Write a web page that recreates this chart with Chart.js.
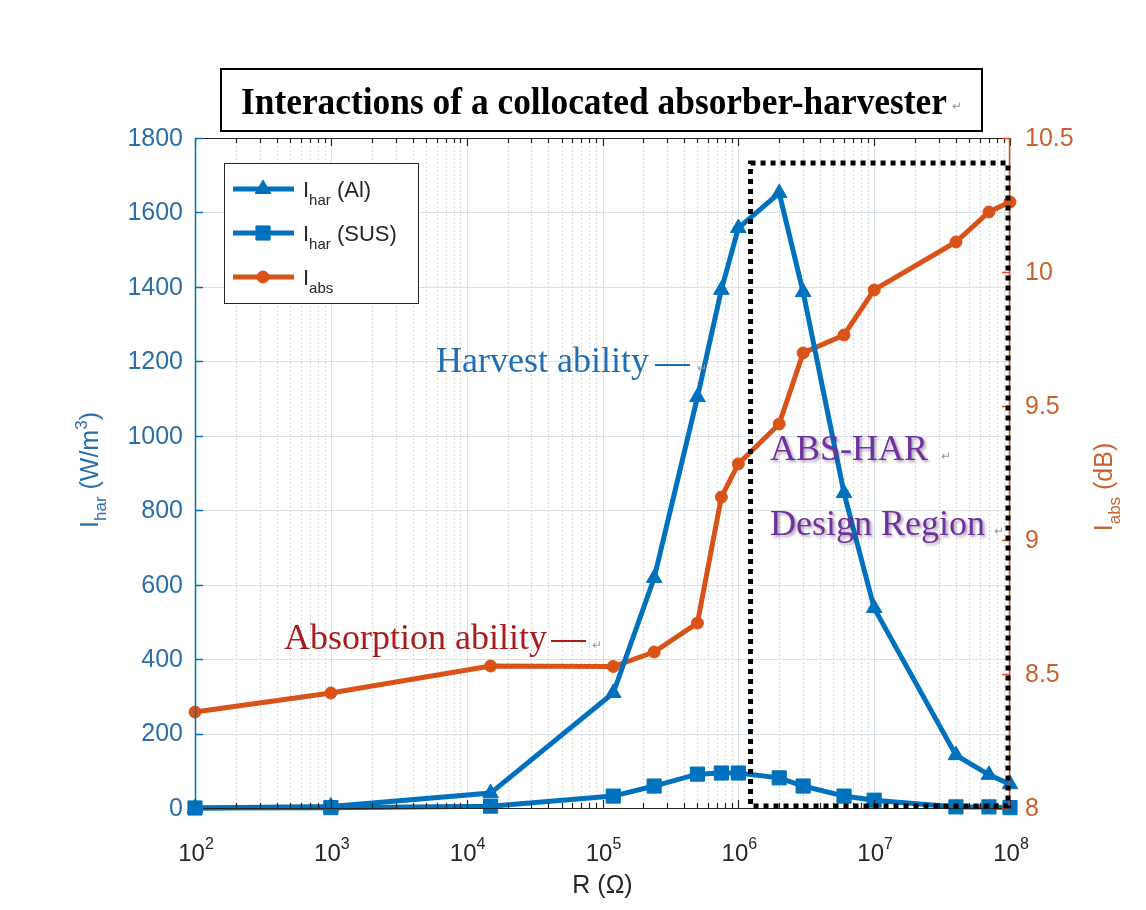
<!DOCTYPE html>
<html><head><meta charset="utf-8">
<script src="https://cdn.jsdelivr.net/npm/chart.js@4.4.0/dist/chart.umd.min.js"></script>
<style>html,body{margin:0;padding:0;background:#fff;}#c{display:block;}</style>
</head><body>
<canvas id="c" width="1146" height="910"></canvas>
<script>
// ---------------- data ----------------
const resistance = [1e2, 1e3, 1.5e4, 1.2e5, 2.4e5, 5e5, 7.5e5, 1e6, 2e6, 3e6, 6e6, 1e7, 4e7, 7e7, 1e8];
const harAl  = [0, 4, 40, 309, 618, 1104, 1392, 1558, 1652, 1386, 846, 537, 142, 89, 64];
const harSUS = [0, 1, 5, 32, 59, 91, 94, 94, 81, 59, 32, 21, 3, 3, 1];
const absDB  = [8.358, 8.429, 8.530, 8.528, 8.582, 8.690, 9.160, 9.284, 9.433, 9.698, 9.765, 9.933, 10.112, 10.224, 10.261];
const leftTicks  = [0, 200, 400, 600, 800, 1000, 1200, 1400, 1600, 1800];
const rightTicks = [8, 8.5, 9, 9.5, 10, 10.5];
const xExponents = [2, 3, 4, 5, 6, 7, 8];
const regionR = [1.23e6, 1e8];      // ABS-HAR design region (R range)
const regionTop = 1733;             // top of design region (left-axis units)

const BLUE = '#0072BD', ORANGE = '#D95319';
const BLUE_TXT = '#2c6fa8', ORANGE_TXT = '#c8622c', AX = '#262626';
const SANS = '"Liberation Sans", Arial, sans-serif';
const SERIF = '"Liberation Serif", "Times New Roman", serif';

function pts(ys){ return resistance.map((r,i)=>({x:r, y:ys[i]})); }

function rich(ctx, parts, x, y, align){
  let w = 0;
  parts.forEach(p=>{ ctx.font = p[1]+'px '+SANS; w += ctx.measureText(p[0]).width; });
  let cx = align==='center' ? x - w/2 : (align==='right' ? x - w : x);
  ctx.textAlign='left';
  parts.forEach(p=>{ ctx.font = p[1]+'px '+SANS; ctx.fillText(p[0], cx, y + (p[2]||0)); cx += ctx.measureText(p[0]).width; });
  return w;
}

const decor = {
  id:'decor',
  beforeDatasetsDraw(chart){
    const ctx = chart.ctx, xs = chart.scales.x, ys = chart.scales.y;
    const {left,right,top,bottom} = chart.chartArea;
    ctx.save();
    ctx.lineWidth = 1; ctx.setLineDash([2,2]); ctx.strokeStyle = 'rgba(150,150,150,0.38)';
    for (let d=2; d<8; d++) for (let m=2; m<=9; m++){
      const px = Math.round(xs.getPixelForValue(m*Math.pow(10,d)))+0.5;
      ctx.beginPath(); ctx.moveTo(px, top); ctx.lineTo(px, bottom); ctx.stroke();
    }
    ctx.setLineDash([]); ctx.strokeStyle = '#d9e1ea';
    xExponents.forEach(e=>{
      const px = Math.round(xs.getPixelForValue(Math.pow(10,e)))+0.5;
      ctx.beginPath(); ctx.moveTo(px, top); ctx.lineTo(px, bottom); ctx.stroke();
    });
    leftTicks.forEach(v=>{
      const py = Math.round(ys.getPixelForValue(v))+0.5;
      ctx.beginPath(); ctx.moveTo(left, py); ctx.lineTo(right, py); ctx.stroke();
    });
    ctx.restore();
  },
  afterDatasetsDraw(chart){
    const ctx = chart.ctx, xs = chart.scales.x, ys = chart.scales.y, y2 = chart.scales.y2;
    const {left,right,top,bottom} = chart.chartArea;
    ctx.save();
    ctx.lineWidth = 1.2;
    ctx.strokeStyle = AX;
    ctx.beginPath(); ctx.moveTo(left, bottom+0.5); ctx.lineTo(right, bottom+0.5); ctx.stroke();
    ctx.beginPath(); ctx.moveTo(left, top+0.5); ctx.lineTo(right, top+0.5); ctx.stroke();
    for (let d=2; d<=8; d++) for (let m=1; m<=9; m++){
      if (d===8 && m>1) break;
      const px = Math.round(xs.getPixelForValue(m*Math.pow(10,d)))+0.5;
      const L = m===1 ? 8 : 5;
      ctx.beginPath(); ctx.moveTo(px, bottom); ctx.lineTo(px, bottom-L); ctx.stroke();
      ctx.beginPath(); ctx.moveTo(px, top); ctx.lineTo(px, top+L); ctx.stroke();
    }
    ctx.lineWidth = 1.5;
    ctx.strokeStyle = BLUE;
    ctx.beginPath(); ctx.moveTo(left+0.5, top); ctx.lineTo(left+0.5, bottom); ctx.stroke();
    leftTicks.forEach(v=>{ const py=Math.round(ys.getPixelForValue(v))+0.5; ctx.beginPath(); ctx.moveTo(left,py); ctx.lineTo(left+8,py); ctx.stroke(); });
    ctx.strokeStyle = ORANGE;
    ctx.beginPath(); ctx.moveTo(right-0.5, top); ctx.lineTo(right-0.5, bottom); ctx.stroke();
    rightTicks.forEach(v=>{ const py=Math.round(y2.getPixelForValue(v))+0.5; ctx.beginPath(); ctx.moveTo(right,py); ctx.lineTo(right-8,py); ctx.stroke(); });

    ctx.textBaseline = 'middle';
    ctx.font = '25px '+SANS; ctx.fillStyle = BLUE_TXT; ctx.textAlign = 'right';
    leftTicks.forEach(v=>ctx.fillText(String(v), left-12, ys.getPixelForValue(v)+1));
    ctx.fillStyle = ORANGE_TXT; ctx.textAlign = 'left';
    rightTicks.forEach(v=>ctx.fillText(String(v), right+15, y2.getPixelForValue(v)+1));
    ctx.textBaseline = 'alphabetic'; ctx.fillStyle = AX;
    xExponents.forEach(e=>{
      rich(ctx, [['10',24,0],[String(e),16,-12]], xs.getPixelForValue(Math.pow(10,e))+1, bottom+53, 'center');
    });
    ctx.fillStyle = AX;
    rich(ctx, [['R (Ω)',25,0]], (left+right)/2, 893, 'center');
    ctx.save(); ctx.fillStyle = BLUE_TXT; ctx.translate(98, 470); ctx.rotate(-Math.PI/2);
    rich(ctx, [['I',25,0],['har',17,8],[' (W/m',25,0],['3',17,-11],[')',25,0]], 0, 0, 'center');
    ctx.restore();
    ctx.save(); ctx.fillStyle = ORANGE_TXT; ctx.translate(1112, 487); ctx.rotate(-Math.PI/2);
    rich(ctx, [['I',25,0],['abs',17,8],[' (dB)',25,0]], 0, 0, 'center');
    ctx.restore();

    const bx0 = xs.getPixelForValue(regionR[0]), bx1 = xs.getPixelForValue(regionR[1]) - 2;
    const by0 = ys.getPixelForValue(regionTop), by1 = ys.getPixelForValue(0) - 2;
    ctx.strokeStyle = '#000'; ctx.lineWidth = 5; ctx.setLineDash([5,5]);
    ctx.strokeRect(bx0, by0, bx1-bx0, by1-by0);
    ctx.setLineDash([]);

    ctx.textAlign = 'left'; ctx.textBaseline = 'alphabetic';
    ctx.font = '36px '+SERIF;
    ctx.fillStyle = '#1f6fb2';
    ctx.fillText('Harvest ability', 436, 372);
    ctx.fillRect(655, 364, 35, 2);
    ctx.fillStyle = '#a81c1c';
    ctx.fillText('Absorption ability', 284, 649);
    ctx.fillRect(551, 640, 35, 2);
    ctx.save();
    ctx.shadowColor = 'rgba(60,40,80,0.45)'; ctx.shadowBlur = 3; ctx.shadowOffsetX = 2; ctx.shadowOffsetY = 2;
    ctx.fillStyle = '#7030A0';
    ctx.fillText('ABS-HAR', 770, 460);
    ctx.fillText('Design Region', 770, 535);
    ctx.restore();
    ctx.fillStyle = '#999'; ctx.font = '12px '+SANS;
    [[697,372],[592,649],[941,460],[994,535]].forEach(p=>ctx.fillText('↵', p[0], p[1]));

    ctx.fillStyle = '#fff'; ctx.fillRect(224, 163, 194, 140);
    ctx.strokeStyle = AX; ctx.lineWidth = 1; ctx.strokeRect(224.5, 163.5, 194, 140);
    const leg = [[BLUE,'triangle',[['I',22,0],['har',15,8],[' (Al)',22,0]]],
                 [BLUE,'rect',[['I',22,0],['har',15,8],[' (SUS)',22,0]]],
                 [ORANGE,'circle',[['I',22,0],['abs',15,8]]]];
    leg.forEach((L,i)=>{
      const cy = 189 + i*44;
      ctx.strokeStyle = L[0]; ctx.lineWidth = 5;
      ctx.beginPath(); ctx.moveTo(233, cy); ctx.lineTo(294, cy); ctx.stroke();
      ctx.fillStyle = L[0]; ctx.lineWidth = 1;
      const r = L[1]==='triangle'?9:(L[1]==='rect'?10:6);
      Chart.helpers.drawPoint(ctx, {pointStyle:L[1], radius:r, borderWidth:1, rotation:0}, 263, cy);
      ctx.fillStyle = AX;
      rich(ctx, L[2], 303, cy+8, 'left');
    });

    ctx.fillStyle = '#fff'; ctx.fillRect(221, 69, 761, 62);
    ctx.strokeStyle = '#000'; ctx.lineWidth = 2; ctx.strokeRect(221, 69, 761, 62);
    ctx.fillStyle = '#000'; ctx.font = 'bold 38px '+SERIF;
    const tt = 'Interactions of a collocated absorber-harvester';
    const tw = ctx.measureText(tt).width;
    ctx.save(); ctx.translate(241, 114); ctx.scale(706/tw, 1); ctx.textAlign='left'; ctx.fillText(tt, 0, 0); ctx.restore();
    ctx.fillStyle = '#999'; ctx.font = '12px '+SANS; ctx.fillText('↵', 952, 110);
    ctx.restore();
  }
};

new Chart(document.getElementById('c').getContext('2d'), {
  type: 'line',
  data: { datasets: [
    { label:'Ihar (Al)', data: pts(harAl), yAxisID:'y', borderColor:BLUE, backgroundColor:BLUE,
      borderWidth:5, pointStyle:'triangle', pointRadius:9, pointBorderWidth:1, clip:false },
    { label:'Ihar (SUS)', data: pts(harSUS), yAxisID:'y', borderColor:BLUE, backgroundColor:BLUE,
      borderWidth:5, pointStyle:'rect', pointRadius:10, pointBorderWidth:1, clip:false },
    { label:'Iabs', data: pts(absDB), yAxisID:'y2', borderColor:ORANGE, backgroundColor:ORANGE,
      borderWidth:5, pointStyle:'circle', pointRadius:6, pointBorderWidth:1, clip:false }
  ]},
  options: {
    responsive:false, animation:false, devicePixelRatio:1,
    layout:{ padding:{ top:138, left:0, right:0, bottom:0 } },
    plugins:{ legend:{display:false}, tooltip:{enabled:false}, title:{display:false} },
    elements:{ line:{ tension:0 } },
    scales:{
      x:{ type:'logarithmic', min:100, max:1e8, ticks:{display:false}, grid:{display:false}, border:{display:false},
          afterFit(s){ s.height = 102; } },
      y:{ position:'left', min:0, max:1800, ticks:{display:false}, grid:{display:false}, border:{display:false},
          afterFit(s){ s.width = 195; } },
      y2:{ position:'right', min:8, max:10.5, ticks:{display:false}, grid:{display:false}, border:{display:false},
          afterFit(s){ s.width = 136; } }
    }
  },
  plugins:[decor]
});
</script>
</body></html>
